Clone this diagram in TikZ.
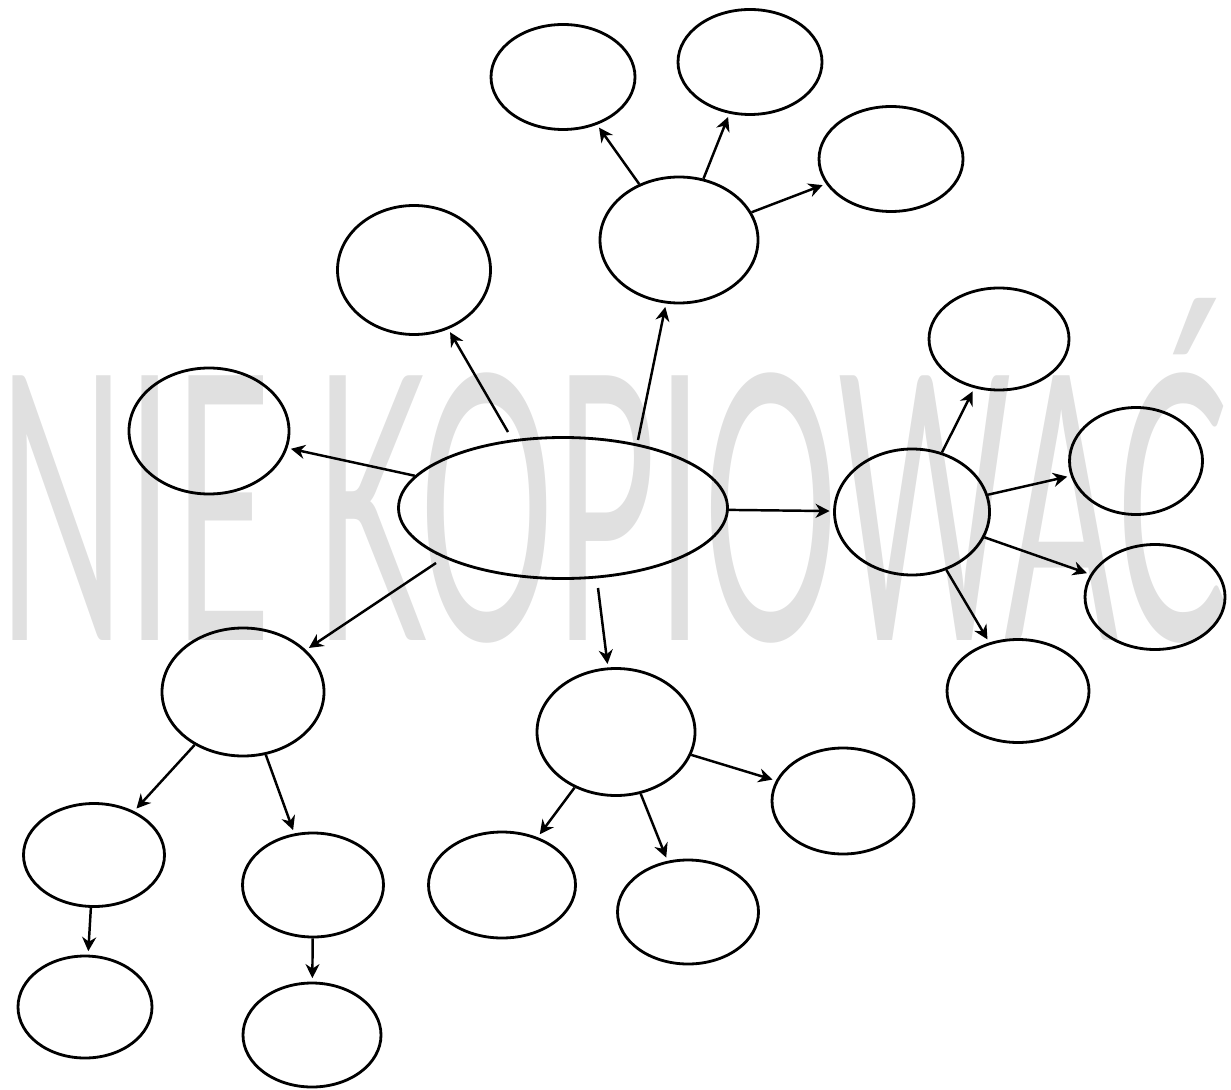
\documentclass[tikz,border=0pt]{standalone}
\usepackage{fontspec}
\usepackage{graphicx}
\newfontfamily\wmfont{Lato}
\usetikzlibrary{shapes.geometric,arrows.meta}
\definecolor{wmgray}{HTML}{E0E0E0}
\begin{document}
\begin{tikzpicture}[
  bub/.style={draw=black, line width=0.8pt, ellipse, inner sep=0pt},
  conn/.style={draw=black, line width=0.7pt, -{Stealth[length=4pt,width=4pt]}, shorten >=1pt}
]
\useasboundingbox (0,0) rectangle (12.31,-10.89);
% watermark
\node[anchor=south west, inner sep=0pt, text=wmgray] (wm) at (-0.03,-6.44)
  {\resizebox*{12.3cm}{3.45cm}{\wmfont NIE KOPIOWAĆ}};
% ellipses
\node[bub, minimum width=1.44cm, minimum height=1.05cm] (t1) at (5.63,-0.77) {};
\node[bub, minimum width=1.44cm, minimum height=1.05cm] (t2) at (7.50,-0.62) {};
\node[bub, minimum width=1.44cm, minimum height=1.05cm] (t3) at (8.91,-1.59) {};
\node[bub, minimum width=1.58cm, minimum height=1.26cm] (h4) at (6.79,-2.40) {};
\node[bub, minimum width=1.53cm, minimum height=1.29cm] (u5) at (4.14,-2.70) {};
\node[bub, minimum width=1.60cm, minimum height=1.26cm] (l6) at (2.09,-4.31) {};
\node[bub, minimum width=3.29cm, minimum height=1.41cm] (c) at (5.63,-5.08) {};
\node[bub, minimum width=1.55cm, minimum height=1.26cm] (h8) at (9.12,-5.12) {};
\node[bub, minimum width=1.40cm, minimum height=1.02cm] (r9) at (9.99,-3.39) {};
\node[bub, minimum width=1.33cm, minimum height=1.07cm] (r10) at (11.36,-4.61) {};
\node[bub, minimum width=1.40cm, minimum height=1.05cm] (r11) at (11.55,-5.97) {};
\node[bub, minimum width=1.42cm, minimum height=1.03cm] (r12) at (10.18,-6.91) {};
\node[bub, minimum width=1.62cm, minimum height=1.28cm] (h13) at (2.43,-6.92) {};
\node[bub, minimum width=1.41cm, minimum height=1.03cm] (b14) at (0.94,-8.55) {};
\node[bub, minimum width=1.41cm, minimum height=1.04cm] (b15) at (3.13,-8.85) {};
\node[bub, minimum width=1.34cm, minimum height=1.02cm] (b16) at (0.85,-10.07) {};
\node[bub, minimum width=1.38cm, minimum height=1.04cm] (b17) at (3.12,-10.35) {};
\node[bub, minimum width=1.58cm, minimum height=1.27cm] (h18) at (6.16,-7.32) {};
\node[bub, minimum width=1.47cm, minimum height=1.06cm] (b19) at (5.02,-8.85) {};
\node[bub, minimum width=1.41cm, minimum height=1.04cm] (b20) at (6.88,-9.12) {};
\node[bub, minimum width=1.42cm, minimum height=1.06cm] (b21) at (8.43,-8.01) {};
% connector start points on the central ellipse
\coordinate (s1) at (6.38,-4.40);
\coordinate (s2) at (5.08,-4.32);
\coordinate (s3) at (4.36,-5.63);
\coordinate (s4) at (5.98,-5.88);
% connectors
\draw[conn] (s1) -- (h4);
\draw[conn] (s2) -- (u5);
\draw[conn] (c) -- (l6);
\draw[conn] (c) -- (h8);
\draw[conn] (s3) -- (h13);
\draw[conn] (s4) -- (h18);
\draw[conn] (h4) -- (t1);
\draw[conn] (h4) -- (t2);
\draw[conn] (h4) -- (t3);
\draw[conn] (h8) -- (r9);
\draw[conn] (h8) -- (r10);
\draw[conn] (h8) -- (r11);
\draw[conn] (h8) -- (r12);
\draw[conn] (h13) -- (b14);
\draw[conn] (h13) -- (b15);
\draw[conn] (b14) -- (b16);
\draw[conn] (b15) -- (b17);
\draw[conn] (h18) -- (b19);
\draw[conn] (h18) -- (b20);
\draw[conn] (h18) -- (b21);
\end{tikzpicture}
\end{document}
